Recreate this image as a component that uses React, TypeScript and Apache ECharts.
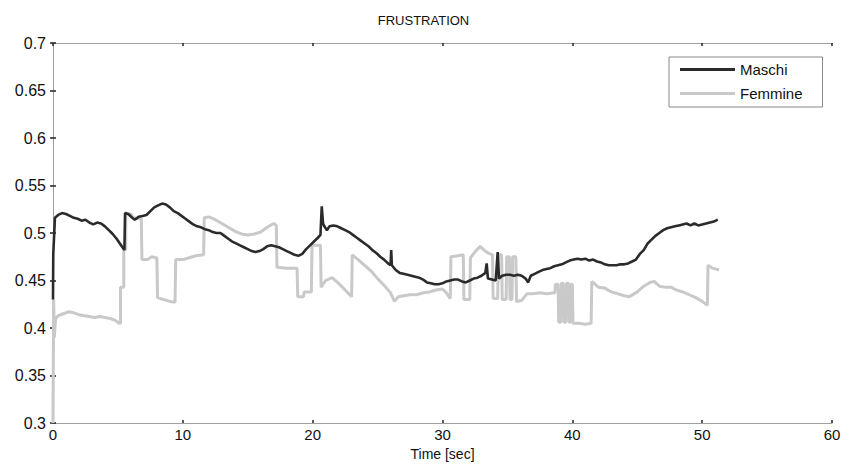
import React, { useEffect, useRef } from "react";
import * as echarts from "echarts";

const TITLE = "FRUSTRATION";
const X_NAME = "Time [sec]";
const SERIES_NAMES = ["Maschi", "Femmine"];
const X_TICKS = [0, 10, 20, 30, 40, 50, 60];
const Y_TICKS = [0.3, 0.35, 0.4, 0.45, 0.5, 0.55, 0.6, 0.65, 0.7];

// Maschi: [time (s), value]
const maschi: [number, number][] = [
  [0, 0.43], [0.02, 0.478], [0.15, 0.516], [0.4, 0.519], [0.7, 0.521], [1.0, 0.52], [1.3, 0.518],
  [1.6, 0.516], [1.9, 0.515], [2.2, 0.513], [2.5, 0.514], [2.8, 0.511], [3.1, 0.509], [3.4, 0.511],
  [3.7, 0.51], [4.0, 0.507], [4.3, 0.503], [4.6, 0.499], [4.9, 0.494], [5.2, 0.488], [5.5, 0.482],
  [5.55, 0.521], [5.8, 0.52], [6.1, 0.516], [6.3, 0.514], [6.6, 0.517], [6.9, 0.518], [7.2, 0.519],
  [7.5, 0.523], [7.8, 0.527], [8.1, 0.529], [8.4, 0.531], [8.7, 0.53], [9.0, 0.527], [9.3, 0.523],
  [9.6, 0.521], [9.9, 0.518], [10.2, 0.515], [10.5, 0.512], [10.8, 0.509], [11.1, 0.507], [11.4, 0.506],
  [11.7, 0.504], [12.0, 0.503], [12.3, 0.501], [12.6, 0.5], [12.9, 0.5], [13.2, 0.497], [13.5, 0.494],
  [13.8, 0.491], [14.1, 0.489], [14.4, 0.487], [14.7, 0.485], [15.0, 0.483], [15.3, 0.481], [15.6, 0.48],
  [15.9, 0.481], [16.2, 0.483], [16.5, 0.486], [16.8, 0.487], [17.1, 0.486], [17.4, 0.485], [17.7, 0.483],
  [18.0, 0.481], [18.3, 0.479], [18.6, 0.477], [18.9, 0.476], [19.2, 0.478], [19.5, 0.483], [19.8, 0.487],
  [20.1, 0.491], [20.4, 0.495], [20.6, 0.498], [20.7, 0.528], [20.8, 0.51], [20.9, 0.507], [21.1, 0.503],
  [21.3, 0.507], [21.6, 0.508], [21.9, 0.507], [22.2, 0.505], [22.5, 0.503], [22.8, 0.501], [23.1, 0.498],
  [23.4, 0.495], [23.7, 0.492], [24.0, 0.489], [24.3, 0.486], [24.6, 0.482], [24.9, 0.479], [25.2, 0.475],
  [25.5, 0.472], [25.8, 0.468], [26.0, 0.466], [26.05, 0.482], [26.1, 0.466], [26.4, 0.461], [26.7, 0.458],
  [27.0, 0.457], [27.3, 0.456], [27.6, 0.455], [27.9, 0.454], [28.2, 0.453], [28.5, 0.451], [28.8, 0.448],
  [29.1, 0.447], [29.4, 0.446], [29.7, 0.446], [30.0, 0.447], [30.3, 0.449], [30.6, 0.45], [30.9, 0.451],
  [31.2, 0.451], [31.5, 0.449], [31.8, 0.448], [32.1, 0.45], [32.4, 0.452], [32.7, 0.453], [33.0, 0.455],
  [33.3, 0.458], [33.4, 0.468], [33.5, 0.452], [33.8, 0.451], [34.1, 0.45], [34.25, 0.48], [34.35, 0.452],
  [34.6, 0.455], [34.9, 0.456], [35.2, 0.456], [35.5, 0.455], [35.8, 0.456], [36.1, 0.455], [36.4, 0.452],
  [36.6, 0.448], [36.8, 0.455], [37.1, 0.457], [37.4, 0.459], [37.7, 0.461], [38.0, 0.462], [38.3, 0.463],
  [38.6, 0.465], [38.9, 0.466], [39.2, 0.467], [39.5, 0.469], [39.8, 0.471], [40.1, 0.472], [40.4, 0.473],
  [40.7, 0.472], [41.0, 0.473], [41.3, 0.471], [41.6, 0.472], [41.9, 0.47], [42.2, 0.469], [42.5, 0.467],
  [42.8, 0.466], [43.1, 0.466], [43.4, 0.466], [43.7, 0.467], [44.0, 0.467], [44.3, 0.468], [44.6, 0.47],
  [44.9, 0.472], [45.2, 0.478], [45.5, 0.482], [45.8, 0.489], [46.1, 0.493], [46.4, 0.497], [46.7, 0.5],
  [47.0, 0.503], [47.3, 0.505], [47.6, 0.506], [47.9, 0.507], [48.2, 0.508], [48.5, 0.509], [48.8, 0.51],
  [49.1, 0.508], [49.4, 0.51], [49.7, 0.508], [50.0, 0.509], [50.3, 0.51], [50.6, 0.511], [50.9, 0.512],
  [51.2, 0.514],
];

// Femmine: [time (s), value]
const femmine: [number, number][] = [
  [0, 0.3], [0.05, 0.43], [0.1, 0.39], [0.2, 0.41], [0.4, 0.413], [0.8, 0.415], [1.2, 0.417], [1.6, 0.416],
  [2.0, 0.414], [2.4, 0.413], [2.8, 0.412], [3.2, 0.411], [3.6, 0.412], [4.0, 0.411], [4.4, 0.41],
  [4.8, 0.408], [5.1, 0.405], [5.2, 0.405], [5.2, 0.443], [5.45, 0.443], [5.45, 0.482], [5.6, 0.482],
  [5.6, 0.52], [6.0, 0.52], [6.2, 0.516], [6.8, 0.515], [6.85, 0.472], [7.3, 0.472], [7.6, 0.475],
  [7.9, 0.474], [8.0, 0.474], [8.05, 0.432], [8.5, 0.43], [9.0, 0.428], [9.4, 0.427], [9.45, 0.472],
  [10.0, 0.472], [10.5, 0.474], [11.0, 0.476], [11.6, 0.477], [11.65, 0.516], [12.0, 0.517], [12.5, 0.514],
  [13.0, 0.51], [13.5, 0.506], [14.0, 0.502], [14.5, 0.499], [15.0, 0.498], [15.5, 0.499], [16.0, 0.501],
  [16.5, 0.506], [17.0, 0.51], [17.2, 0.508], [17.25, 0.464], [18.0, 0.463], [18.8, 0.463], [18.85, 0.433],
  [19.3, 0.433], [19.35, 0.438], [19.9, 0.438], [19.95, 0.487], [20.6, 0.487], [20.65, 0.443], [21.0, 0.45],
  [21.5, 0.453], [22.0, 0.447], [22.5, 0.44], [23.0, 0.433], [23.05, 0.477], [23.5, 0.472], [24.0, 0.466],
  [24.5, 0.46], [25.0, 0.452], [25.5, 0.445], [26.0, 0.437], [26.3, 0.428], [26.6, 0.433], [27.0, 0.434],
  [27.5, 0.435], [28.0, 0.435], [28.5, 0.437], [29.0, 0.438], [29.5, 0.44], [30.0, 0.441], [30.3, 0.437],
  [30.6, 0.431], [30.65, 0.475], [31.2, 0.476], [31.6, 0.477], [31.65, 0.43], [32.1, 0.43], [32.15, 0.474],
  [32.5, 0.48], [32.9, 0.486], [33.2, 0.482], [33.5, 0.479], [33.85, 0.477], [33.9, 0.431], [34.25, 0.431],
  [34.3, 0.477], [34.55, 0.477], [34.6, 0.43], [34.9, 0.43], [34.95, 0.475], [35.15, 0.475], [35.2, 0.43],
  [35.35, 0.43], [35.4, 0.475], [35.65, 0.475], [35.7, 0.428], [36.1, 0.429], [36.5, 0.436], [37.0, 0.436],
  [37.5, 0.437], [38.0, 0.436], [38.65, 0.437], [38.7, 0.446], [38.9, 0.446], [38.95, 0.406], [39.1, 0.406],
  [39.15, 0.447], [39.3, 0.447], [39.35, 0.406], [39.5, 0.406], [39.55, 0.447], [39.7, 0.447], [39.75, 0.406],
  [39.85, 0.406], [39.9, 0.446], [40.0, 0.446], [40.05, 0.405], [40.5, 0.405], [41.0, 0.404], [41.45, 0.405],
  [41.5, 0.449], [42.0, 0.443], [42.5, 0.442], [43.0, 0.438], [43.5, 0.436], [44.0, 0.434], [44.4, 0.433],
  [45.0, 0.438], [45.5, 0.444], [46.0, 0.448], [46.3, 0.449], [46.7, 0.444], [47.2, 0.443], [47.6, 0.443],
  [48.0, 0.44], [48.5, 0.438], [49.0, 0.435], [49.5, 0.432], [50.0, 0.428], [50.4, 0.424], [50.45, 0.466],
  [50.8, 0.463], [51.3, 0.461],
];

const FONT = "'Liberation Sans', Arial, Helvetica, sans-serif";

export default function App() {
  const ref = useRef<HTMLDivElement>(null);
  useEffect(() => {
    if (!ref.current) return;
    const chart = echarts.init(ref.current, undefined, { renderer: "svg" });
    const axisLine = { show: true, lineStyle: { color: "#a0a0a0", width: 1 } };
    const tick = { show: true, inside: true, length: 3, lineStyle: { color: "#222", width: 1.5 } };
    chart.setOption({
      animation: false,
      backgroundColor: "#ffffff",
      title: {
        text: TITLE,
        left: "center",
        top: 9,
        textStyle: { fontFamily: FONT, fontSize: 13, fontWeight: "normal", color: "#111" },
      },
      legend: {
        data: SERIES_NAMES,
        orient: "vertical",
        left: 669,
        top: 57,
        padding: [5, 20, 6, 11],
        itemGap: 9,
        itemWidth: 55,
        itemHeight: 3,
        icon: "rect",
        backgroundColor: "#fff",
        borderColor: "#888",
        borderWidth: 1,
        textStyle: { fontFamily: FONT, fontSize: 15, color: "#111" },
      },
      grid: { left: 53, right: 15, top: 43, bottom: 43, show: false },
      xAxis: [
        {
          type: "value",
          min: 0,
          max: 60,
          interval: 10,
          name: X_NAME,
          nameLocation: "middle",
          nameGap: 24,
          nameTextStyle: { fontFamily: FONT, fontSize: 14, color: "#111" },
          axisLine,
          axisTick: tick,
          splitLine: { show: false },
          axisLabel: {
            margin: 4,
            fontFamily: FONT,
            fontSize: 15,
            color: "#111",
            customValues: X_TICKS,
          },
        },
        {
          type: "value",
          position: "top",
          min: 0,
          max: 60,
          interval: 10,
          axisLine,
          axisTick: tick,
          axisLabel: { show: false },
          splitLine: { show: false },
        },
      ],
      yAxis: [
        {
          type: "value",
          min: 0.3,
          max: 0.7,
          interval: 0.05,
          axisLine,
          axisTick: tick,
          splitLine: { show: false },
          axisLabel: {
            margin: 7,
            fontFamily: FONT,
            fontSize: 16,
            color: "#111",
            formatter: (v: number) => String(parseFloat(v.toFixed(2))),
            customValues: Y_TICKS,
          },
        },
        {
          type: "value",
          position: "right",
          min: 0.3,
          max: 0.7,
          interval: 0.05,
          axisLine,
          axisTick: tick,
          axisLabel: { show: false },
          splitLine: { show: false },
        },
      ],
      series: [
        {
          name: SERIES_NAMES[0],
          type: "line",
          data: maschi,
          showSymbol: false,
          symbol: "none",
          z: 4,
          lineStyle: { color: "#2b2b2b", width: 2.6 },
          itemStyle: { color: "#2b2b2b" },
        },
        {
          name: SERIES_NAMES[1],
          type: "line",
          data: femmine,
          showSymbol: false,
          symbol: "none",
          z: 3,
          lineStyle: { color: "#c9c9c9", width: 3 },
          itemStyle: { color: "#c9c9c9" },
        },
      ],
    });
    return () => chart.dispose();
  }, []);
  return (
    <div
      ref={ref}
      style={{ position: "fixed", left: 0, top: 0, width: 847, height: 466, background: "#fff" }}
    />
  );
}
